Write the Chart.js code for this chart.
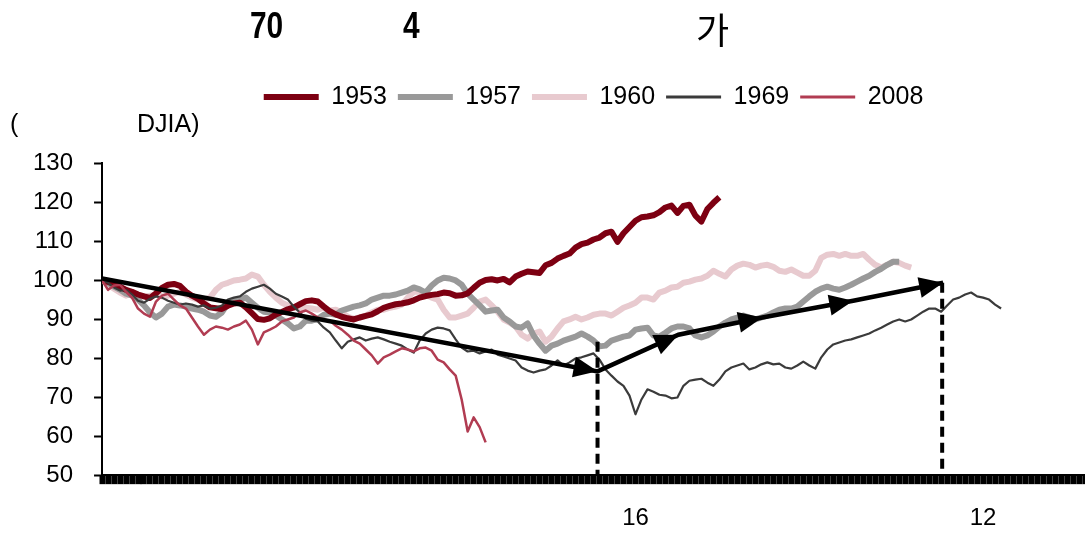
<!DOCTYPE html>
<html>
<head>
<meta charset="utf-8">
<script src="https://cdn.jsdelivr.net/npm/chart.js@4/dist/chart.umd.min.js"></script>
<style>
html,body{margin:0;padding:0;background:#fff;}
#wrap{position:relative;width:1085px;height:538px;overflow:hidden;background:#fff;}
#c{position:absolute;left:0;top:0;}
.t{position:absolute;white-space:nowrap;color:#000;line-height:1;}
.title{font-family:"Liberation Sans Narrow","Liberation Sans",Arial,sans-serif;font-weight:bold;font-size:36px;transform:scaleX(0.83);transform-origin:0 0;}
.ko{font-family:"Noto Sans CJK KR",sans-serif;font-size:36px;}
.unit{font-family:"Liberation Sans",Arial,sans-serif;font-size:25px;}
</style>
</head>
<body>
<div id="wrap">
<canvas id="c" width="1085" height="538"></canvas>
<span class="t title" style="left:250px;top:8px">70</span>
<span class="t title" style="left:403px;top:8px">4</span>
<span class="t ko" style="left:696px;top:10px">가</span>
<span class="t unit" style="left:10px;top:111px">(</span>
<span class="t unit" style="left:137px;top:111px">DJIA)</span>
</div>
<script>
// ---- data (trading-day index on x, DJIA rebased to 100 on y) ----
const seriesNames = ['1953', '1957', '1960', '1969', '2008'];

const djia1953 = [100.0, 99.5, 99.0, 98.3, 97.5, 97.0, 96.3, 95.8, 95.4, 96.6,
  98.0, 98.8, 99.0, 98.5, 97.0, 96.0, 95.2, 94.0, 93.0, 92.8,
  92.6, 93.4, 94.0, 94.2, 93.0, 91.5, 90.0, 89.8, 90.2, 91.2,
  91.8, 92.5, 93.0, 93.8, 94.6, 94.8, 94.5, 93.2, 92.0, 91.2,
  90.6, 90.2, 89.9, 90.4, 90.8, 91.2, 92.0, 92.9, 93.4, 93.8,
  94.0, 94.3, 94.8, 95.5, 95.9, 96.2, 96.4, 96.8, 96.6, 96.0,
  96.1, 96.6, 98.0, 99.3, 100.0, 100.2, 99.9, 100.3, 99.4, 100.9,
  101.6, 102.2, 102.0, 101.8, 103.8, 104.4, 105.5, 106.2, 106.8, 108.3,
  109.2, 109.6, 110.4, 110.9, 112.0, 112.4, 109.8, 112.0, 113.6, 115.2,
  116.1, 116.3, 116.6, 117.4, 118.6, 119.1, 117.2, 119.0, 119.3, 116.5,
  115.0, 118.2, 119.8, 121.2];

const djia1957 = [100.0, 99.3, 98.3, 97.5, 96.5, 96.0, 95.0, 93.5, 91.7, 90.4,
  91.4, 93.2, 93.7, 93.5, 93.2, 92.7, 92.4, 91.9, 90.9, 90.6,
  91.7, 94.0, 94.7, 95.0, 95.5, 94.2, 92.9, 91.9, 91.7, 90.9,
  89.9, 88.9, 87.6, 88.1, 89.6, 89.6, 90.1, 91.1, 91.4, 91.1,
  92.2, 92.7, 93.2, 93.5, 94.0, 95.0, 95.5, 96.0, 96.0, 96.3,
  96.8, 97.3, 98.1, 97.6, 96.8, 98.6, 99.9, 100.6, 100.4, 99.9,
  98.8, 96.5, 95.0, 93.5, 91.9, 92.2, 92.4, 90.4, 89.4, 88.1,
  87.8, 88.9, 85.8, 83.7, 81.9, 83.2, 83.7, 84.5, 85.0, 85.5,
  86.3, 85.5, 84.5, 83.0, 83.2, 84.5, 85.0, 85.5, 85.8, 87.3,
  87.6, 87.8, 85.8, 85.5, 86.5, 87.6, 88.1, 88.1, 87.6, 85.8,
  85.3, 85.8, 86.8, 88.1, 89.1, 89.9, 90.4, 90.9, 90.4, 89.9,
  90.4, 90.9, 91.7, 92.4, 92.7, 92.7, 93.2, 94.5, 95.8, 97.0,
  97.8, 98.3, 97.8, 97.5, 98.1, 98.8, 99.6, 100.4, 101.1, 102.1,
  102.9, 103.9, 104.7, 104.7];

const djia1960 = [100.0, 98.8, 97.8, 96.8, 96.0, 96.8, 96.3, 95.8, 96.0, 96.3,
  95.8, 96.0, 96.5, 97.0, 96.3, 95.5, 95.0, 95.0, 95.5, 97.5,
  98.8, 99.3, 99.9, 100.1, 100.4, 101.4, 100.9, 98.8, 97.0, 95.5,
  94.2, 93.5, 92.9, 92.7, 92.9, 92.7, 92.4, 92.9, 92.2, 92.4,
  91.7, 90.6, 90.1, 90.4, 90.9, 91.7, 92.4, 92.4, 92.9, 93.2,
  93.7, 95.5, 97.0, 97.0, 96.3, 95.5, 95.0, 92.4, 90.4, 90.4,
  90.9, 91.4, 92.9, 94.5, 95.0, 93.5, 91.9, 89.9, 89.1, 88.1,
  86.0, 85.0, 86.3, 86.8, 84.2, 85.5, 87.6, 89.4, 89.9, 90.6,
  89.9, 90.4, 91.1, 91.4, 91.4, 90.9, 91.9, 92.9, 93.5, 94.2,
  95.5, 95.5, 95.0, 96.8, 97.3, 98.1, 98.3, 99.3, 99.6, 100.1,
  100.4, 101.1, 102.4, 101.6, 100.9, 102.7, 103.7, 104.2, 103.9, 103.2,
  103.7, 103.9, 103.4, 102.4, 102.1, 102.7, 101.9, 101.1, 101.1, 102.4,
  105.7, 106.5, 106.7, 106.2, 106.7, 106.2, 106.2, 106.7, 105.2, 103.9,
  103.2, 103.9, 104.7, 104.4, 103.7, 103.2];

const djia1969 = [100.0, 99.3, 98.1, 97.3, 97.5, 96.3, 94.7, 94.2, 95.2, 95.8,
  95.5, 94.7, 94.2, 93.7, 94.0, 93.7, 93.2, 93.5, 92.7, 92.9,
  93.5, 95.0, 95.5, 95.8, 97.0, 97.8, 98.3, 98.8, 97.8, 96.5,
  95.8, 95.0, 93.2, 91.7, 90.1, 89.6, 89.4, 87.8, 86.6, 84.5,
  82.5, 84.2, 84.8, 85.3, 84.5, 85.0, 85.3, 84.8, 84.2, 83.7,
  83.2, 82.2, 81.4, 84.5, 86.3, 87.3, 87.8, 87.6, 87.1, 84.8,
  82.7, 81.7, 81.9, 81.2, 81.7, 82.2, 80.9, 80.4, 79.9, 79.4,
  77.6, 76.8, 76.3, 76.8, 77.1, 78.1, 79.4, 78.1, 78.9, 79.9,
  80.2, 80.7, 81.2, 79.6, 77.1, 75.5, 74.0, 72.9, 70.4, 65.6,
  69.4, 72.0, 71.4, 70.6, 70.4, 69.7, 69.9, 72.9, 74.2, 74.5,
  74.7, 73.7, 72.9, 74.5, 76.6, 77.6, 78.1, 78.6, 77.1, 77.6,
  78.4, 78.9, 78.4, 78.6, 77.6, 77.3, 78.1, 79.1, 78.1, 77.3,
  80.2, 82.2, 83.5, 84.0, 84.5, 84.8, 85.3, 85.8, 86.3, 87.1,
  87.8, 88.6, 89.4, 89.9, 89.4, 89.9, 90.9, 91.9, 92.7, 92.7,
  91.9, 93.5, 95.0, 95.5, 96.3, 96.8, 95.8, 95.5, 95.0, 93.7,
  92.7];

const djia2008 = [100.0, 97.5, 98.6, 98.8, 97.0, 95.5, 92.7, 91.4, 90.6, 94.5,
  96.0, 96.5, 95.0, 93.5, 92.7, 90.4, 88.1, 86.0, 87.3, 88.1,
  87.8, 87.3, 88.1, 88.6, 89.6, 87.3, 83.5, 86.6, 87.3, 88.1,
  89.4, 89.9, 90.4, 91.7, 92.2, 91.4, 90.4, 89.9, 89.6, 88.3,
  87.3, 86.0, 84.5, 83.7, 82.2, 80.7, 78.6, 80.2, 80.9, 81.7,
  82.5, 82.2, 81.7, 82.5, 82.7, 81.9, 79.6, 78.9, 77.1, 75.5,
  69.4, 61.2, 64.8, 62.3, 58.4];

// trend arrow (day index, level) and the two dashed markers
const arrowDays   = [0, 82.67, 96.17, 110.17, 125.33, 140.33];
const arrowLevels = [100.4, 76.6, 86.0, 90.4, 94.7, 99.3];
const markerDays  = [82.67, 140.17];
const markerTops  = [84.2, 99.3];

// axis
const totalDays   = 164;
const yTickValues = [50, 60, 70, 80, 90, 100, 110, 120, 130];
const xLabelDays  = [89, 147];
const xLabelTexts = ['16', '12'];

// ---- build chart ----
const FONT = '"Liberation Sans", Arial, sans-serif';
Chart.defaults.font.family = FONT;
Chart.defaults.color = '#000';

const toPoints = (vals) => vals.map((v, i) => ({ x: i, y: v }));
const zip = (xs, ys) => xs.map((x, i) => ({ x: x, y: ys[i] }));

const seriesStyles = [
  { color: '#7d0012', width: 6, order: 4 },
  { color: '#999999', width: 6, order: 5 },
  { color: '#e8cacf', width: 6, order: 6 },
  { color: '#3b3b3b', width: 2.2, order: 3 },
  { color: '#b13c52', width: 2.5, order: 2 }
];
const seriesData = [djia1953, djia1957, djia1960, djia1969, djia2008];

const datasets = [];
datasets.push({
  label: 'trend', isGuide: true, data: zip(arrowDays, arrowLevels),
  borderColor: '#000', borderWidth: 4.5, pointRadius: 0, order: 0
});
markerDays.forEach((d, k) => {
  datasets.push({
    label: 'marker' + k, isGuide: true,
    data: [{ x: d, y: markerTops[k] }, { x: d, y: yTickValues[0] }],
    borderColor: '#000', borderWidth: 4, borderDash: [10, 6], pointRadius: 0, order: 1
  });
});
seriesNames.forEach((name, k) => {
  const st = seriesStyles[k];
  datasets.push({
    label: name, data: toPoints(seriesData[k]),
    borderColor: st.color, backgroundColor: st.color, borderWidth: st.width,
    borderJoinStyle: 'round', pointRadius: 0, tension: 0, order: st.order
  });
});

const guidePlugin = {
  id: 'guidePlugin',
  afterLayout(chart) {
    const lg = chart.legend;
    if (!lg) return;
    const ca = chart.chartArea;
    const dx = (ca.left + ca.right) / 2 - (lg.left + lg.right) / 2;
    const fs = lg.options.labels.font.size;
    const pad = lg.options.labels.padding;
    const desiredTop = 97 - pad - fs / 2;
    const dy = desiredTop - lg.top;
    lg.left += dx; lg.right += dx; lg.top += dy; lg.bottom += dy;
  },
  afterDatasetsDraw(chart) {
    const meta = chart.getDatasetMeta(0);
    const pts = meta.data;
    const ctx = chart.ctx;
    const L = 24, W = 10.5;
    ctx.save();
    ctx.fillStyle = '#000';
    for (let i = 1; i < pts.length; i++) {
      const p = pts[i], q = pts[i - 1];
      const a = Math.atan2(p.y - q.y, p.x - q.x);
      const cx = Math.cos(a), sx = Math.sin(a);
      const bx = p.x - L * cx, by = p.y - L * sx;
      ctx.beginPath();
      ctx.moveTo(p.x, p.y);
      ctx.lineTo(bx - W * sx, by + W * cx);
      ctx.lineTo(bx + W * sx, by - W * cx);
      ctx.closePath();
      ctx.fill();
    }
    ctx.restore();
  }
};

const defaultLabels = Chart.defaults.plugins.legend.labels.generateLabels;

new Chart(document.getElementById('c'), {
  type: 'line',
  data: { datasets: datasets },
  options: {
    responsive: false,
    animation: false,
    devicePixelRatio: 1,
    layout: { padding: { left: 12, right: 0, top: 117, bottom: 8 } },
    plugins: {
      tooltip: { enabled: false },
      title: { display: false },
      legend: {
        display: true,
        position: 'top',
        labels: {
          usePointStyle: true,
          pointStyle: 'line',
          pointStyleWidth: 55,
          padding: 11,
          color: '#000',
          font: { size: 25, family: FONT },
          generateLabels: (chart) => defaultLabels(chart).map(it => Object.assign(it, { lineWidth: Math.max(it.lineWidth, 3) })),
          filter: (item, data) => !data.datasets[item.datasetIndex].isGuide,
          sort: (a, b) => a.datasetIndex - b.datasetIndex
        }
      }
    },
    scales: {
      x: {
        type: 'linear',
        min: 0,
        max: totalDays,
        border: { display: true, color: '#000', width: 2 },
        grid: { drawOnChartArea: false, drawTicks: true, tickLength: 9, tickWidth: 6, tickColor: '#000' },
        ticks: {
          stepSize: 1, autoSkip: false, maxRotation: 0, minRotation: 0, padding: 0,
          color: '#000', font: { size: 24, family: FONT, lineHeight: 0.955 },
          callback: (v) => { const k = xLabelDays.indexOf(v); return k >= 0 ? ['', xLabelTexts[k]] : ''; }
        }
      },
      y: {
        type: 'linear',
        min: yTickValues[0],
        max: yTickValues[yTickValues.length - 1],
        border: { display: true, color: '#000', width: 2 },
        grid: { drawOnChartArea: false, drawTicks: true, tickLength: 8, tickWidth: 2, tickColor: '#000' },
        ticks: { stepSize: 10, padding: 21, color: '#000', font: { size: 24, family: FONT } }
      }
    }
  },
  plugins: [guidePlugin]
});
</script>
</body>
</html>
